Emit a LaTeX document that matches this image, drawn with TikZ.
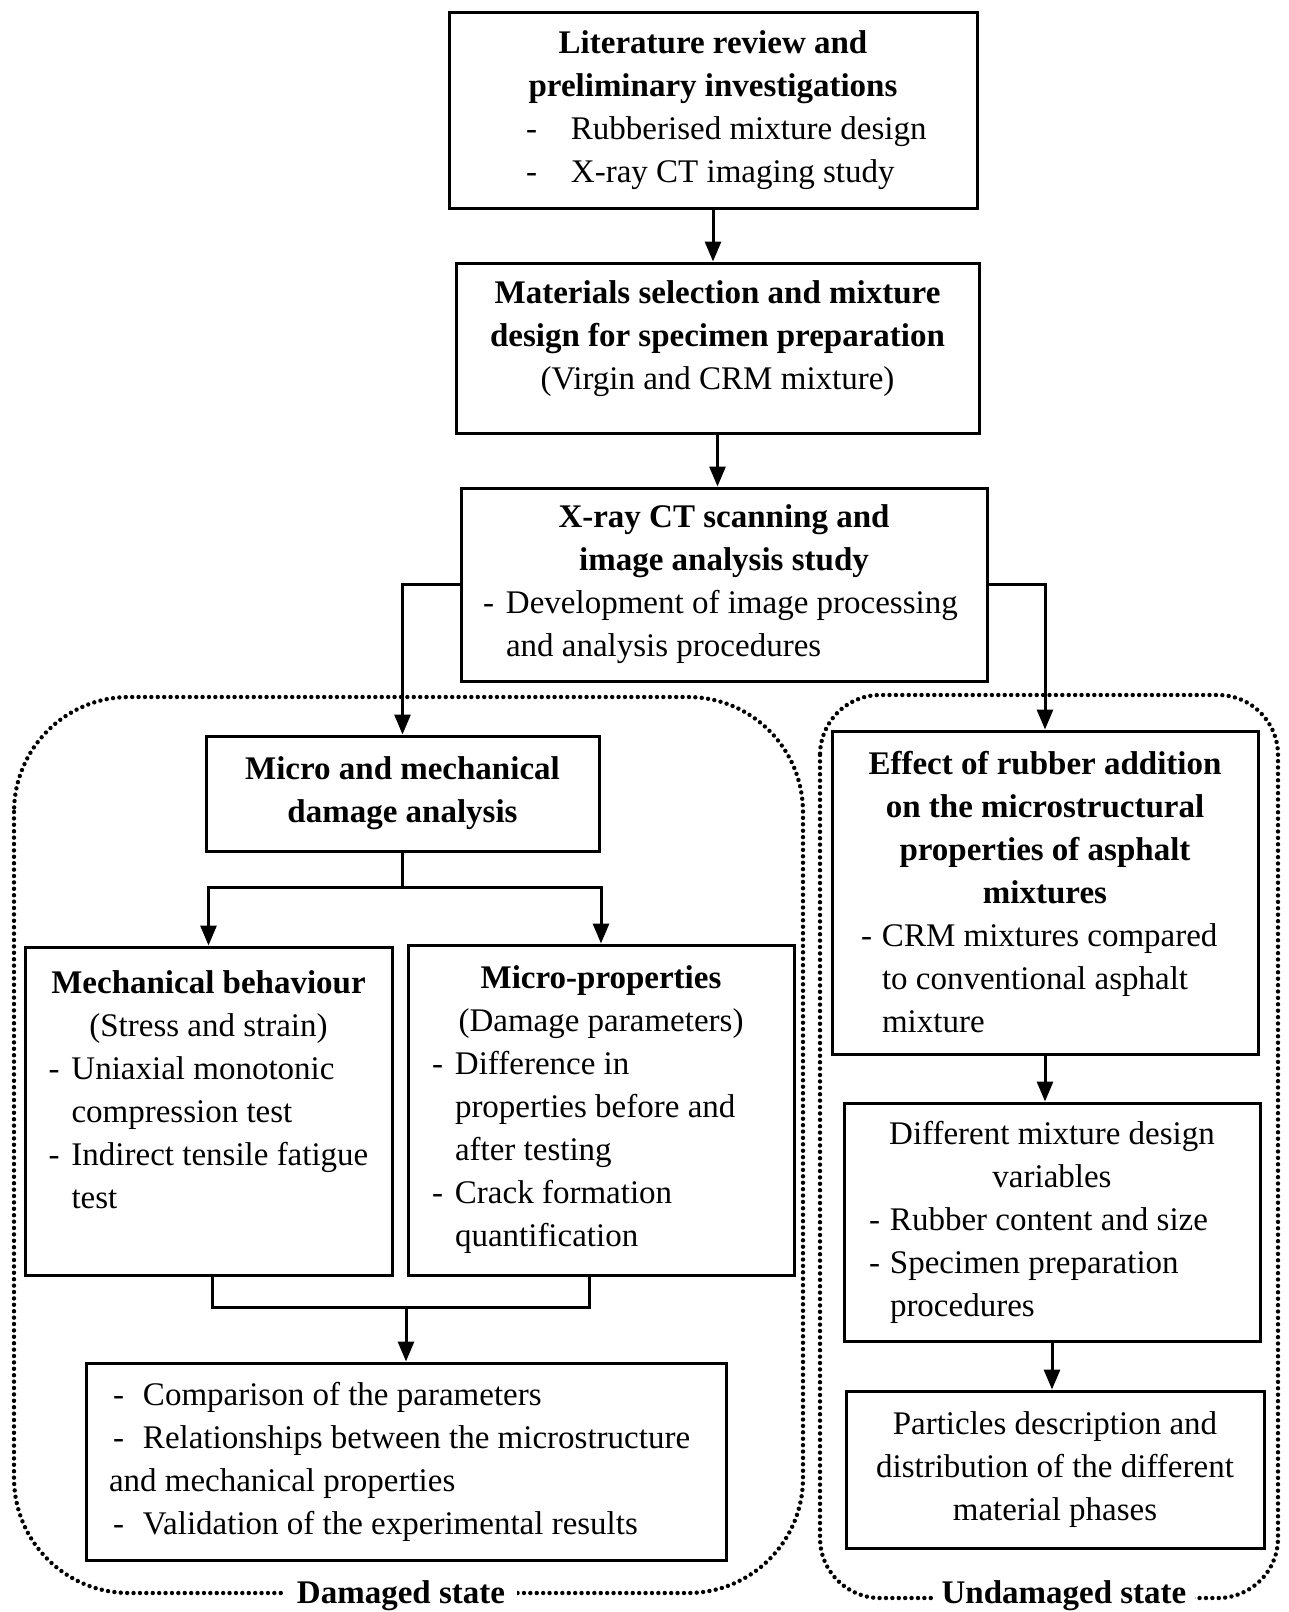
\documentclass[tikz,border=0pt]{standalone}
\usepackage{fontspec}
\setmainfont{Liberation Serif}
\usepackage{tikz}
\usetikzlibrary{arrows.meta}

\newcommand{\dashitem}[3]{\makebox[#1pt][l]{\makebox[#2pt][l]{-}#3}}
\newcommand{\contitem}[3]{\makebox[#1pt][l]{\hspace{#2pt}#3}}

\begin{document}
\begin{tikzpicture}
            [
                x=1pt, y=-1pt,
                flowbox/.style={rectangle, draw=black, line width=3pt, inner sep=0pt, align=center, font=\fontsize{33}{43}\selectfont},
                arrowline/.style={line width=3pt, -{Triangle[length=20pt,width=16pt]}},
                plainline/.style={line width=3pt},
                dottedregion/.style={line width=4.4pt, line cap=round, dash pattern=on 0pt off 6.4pt},
                statelabel/.style={fill=white, inner xsep=12pt, inner ysep=1pt, font=\fontsize{33}{43}\selectfont\bfseries},
            ]

            \useasboundingbox (0,0) rectangle (1288,1612);

            %% DOTTED REGIONS
            \draw[dottedregion, rounded corners=115pt] (14,697) rectangle (803,1593);
            \draw[dottedregion, rounded corners=60pt] (820,695) rectangle (1278,1598);

            %% TOP CHAIN
            \node[flowbox, minimum width=528pt, minimum height=196pt] (lit) at(713,110) {\textbf{Literature review and}\\ \textbf{preliminary investigations}\\ \dashitem{374}{45}{Rubberised mixture design}\\ \dashitem{374}{45}{X-ray CT imaging study}};
            \node[flowbox, minimum width=523pt, minimum height=170pt] (mat) at(717.5,348) {\textbf{Materials selection and mixture}\\ \textbf{design for specimen preparation}\\ (Virgin and CRM mixture)\rule[-26pt]{0pt}{1pt}};
            \node[flowbox, minimum width=526pt, minimum height=193pt] (xray) at(724,584.5) {\textbf{X-ray CT scanning and}\\ \textbf{image analysis study}\\ \dashitem{482}{23}{Development of image processing}\\ \contitem{482}{23}{and analysis procedures}};

            %% DAMAGED STATE
            \node[flowbox, minimum width=393pt, minimum height=115pt] (micmech) at(402.5,793.5) {\textbf{Micro and mechanical}\\ \textbf{damage analysis}};
            \node[flowbox, minimum width=367pt, minimum height=328pt] (mech) at(208.5,1111) {\textbf{Mechanical behaviour}\\ (Stress and strain)\\ \dashitem{320}{23}{Uniaxial monotonic}\\ \contitem{320}{23}{compression test}\\ \dashitem{320}{23}{Indirect tensile fatigue}\\ \contitem{320}{23}{test}\rule[-42pt]{0pt}{1pt}};
            \node[flowbox, minimum width=386pt, minimum height=330pt] (mprop) at(601,1110) {\textbf{Micro-properties}\\ (Damage parameters)\\ \dashitem{338}{23}{Difference in}\\ \contitem{338}{23}{properties before and}\\ \contitem{338}{23}{after testing}\\ \dashitem{338}{23}{Crack formation}\\ \contitem{338}{23}{quantification}};
            \node[flowbox, minimum width=640pt, minimum height=197pt] (comp) at(406,1461.5) {\dashitem{586}{30}{Comparison of the parameters}\\ \dashitem{586}{30}{Relationships between the microstructure}\\ \contitem{586}{-4}{and mechanical properties}\\ \dashitem{586}{30}{Validation of the experimental results}};

            %% UNDAMAGED STATE
            \node[flowbox, minimum width=426pt, minimum height=323pt] (effect) at(1045,892.5) {\textbf{Effect of rubber addition}\\ \textbf{on the microstructural}\\ \textbf{properties of asphalt}\\ \textbf{mixtures}\\ \dashitem{368}{21}{CRM mixtures compared}\\ \contitem{368}{21}{to conventional asphalt}\\ \contitem{368}{21}{mixture}};
            \node[flowbox, minimum width=416pt, minimum height=238pt] (diff) at(1052,1222) {Different mixture design\\ variables\\ \dashitem{366}{21}{Rubber content and size}\\ \dashitem{366}{21}{Specimen preparation}\\ \contitem{366}{21}{procedures}};
            \node[flowbox, minimum width=418pt, minimum height=157pt] (part) at(1055,1469.5) {Particles description and\\ distribution of the different\\ material phases};

            %% CONNECTORS
            \draw[arrowline] (lit.south) -- (lit.south |- mat.north);
            \draw[arrowline] (mat.south) -- (mat.south |- xray.north);
            \draw[arrowline] (xray.west) -| (micmech.north);
            \draw[arrowline] (xray.east) -| (effect.north);

            \draw[plainline] (micmech.south) -- ++(0,35) coordinate (split);
            \draw[arrowline] (split) -| (mech.north);
            \draw[arrowline] (split) -| (mprop.north);

            \draw[plainline] ([xshift=4pt]mech.south) -- ++(0,31) coordinate (mergeleft) -| ([xshift=-12pt]mprop.south);
            \coordinate (merge) at (comp.north |- mergeleft);
            \draw[arrowline] (merge) -- (comp.north);

            \draw[arrowline] (effect.south) -- (effect.south |- diff.north);
            \draw[arrowline] (diff.south) -- (diff.south |- part.north);

            %% STATE LABELS
            \node[statelabel] (damaged) at(401,1596) {Damaged state};
            \node[statelabel, inner xsep=9pt] (undamaged) at(1064,1596) {Undamaged state};

        \end{tikzpicture}
\end{document}
